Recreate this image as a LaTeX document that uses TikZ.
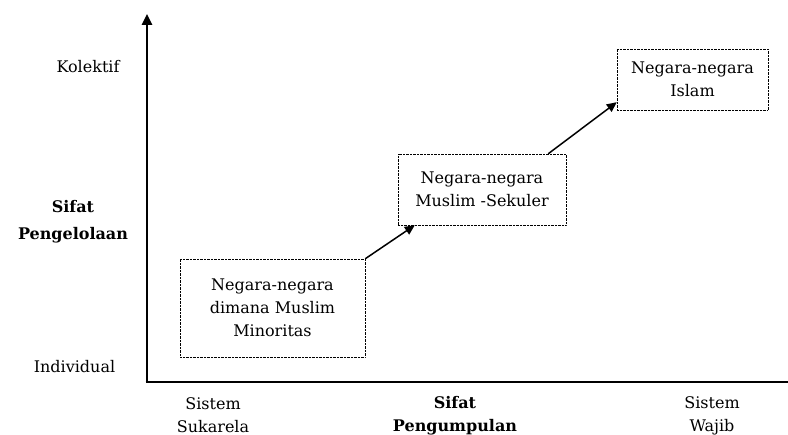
\documentclass[tikz,border=0pt]{standalone}
\usepackage{fontspec}
\setmainfont{DejaVu Serif}
\usetikzlibrary{arrows.meta}
\tikzset{
    negara/.style = {draw, densely dotted, thin, align=center, inner sep=0pt},
    panah/.style = {line width=1.5pt, -{Triangle[length=10pt,width=9pt]}},
    sumbu/.style = {line width=2.6pt},
    teks/.style = {align=center, font=\fontsize{16}{23}\selectfont}
}
\begin{document}
\begin{tikzpicture}[x=1pt,y=1pt]
        \useasboundingbox (0,0) rectangle (788,435);
        % sumbu
        \coordinate (o) at (147,53);
        \coordinate (atas) at (147,421);
        \coordinate (kanan) at (790,53);
        \draw[style = sumbu, -{Triangle[length=11pt,width=10pt]}] (o) -- (atas);
        \draw[style = sumbu] ([xshift=-1.3pt]o) -- (kanan);
        % kotak
        \node[negara, minimum width=185, minimum height=98, teks] (minoritas) at (272.5,127) {Negara-negara\\dimana Muslim\\Minoritas};
        \node[negara, minimum width=168, minimum height=71, teks] (sekuler) at (482,245.5) {Negara-negara\\Muslim -Sekuler};
        \node[negara, minimum width=151, minimum height=61, teks] (islam) at (692.5,355.5) {Negara-negara\\Islam};
        \draw[style = panah] (minoritas.north east) -- ([xshift=17pt]sekuler.south west);
        \draw[style = panah] ([xshift=-18pt]sekuler.north east) -- ([yshift=8pt]islam.south west);
        % label
        \node[teks] (kolektif) at (88,368) {Kolektif};
        \node[teks] (individual) at (74.5,68) {Individual};
        \node[teks, font=\fontsize{16}{27}\selectfont\bfseries] (pengelolaan) at (73,213) {Sifat\\Pengelolaan};
        \node[teks] (sukarela) at (213,19.5) {Sistem\\Sukarela};
        \node[teks, font=\fontsize{16}{23}\selectfont\bfseries] (pengumpulan) at (455,19.5) {Sifat\\Pengumpulan};
        \node[teks] (wajib) at (712,19.5) {Sistem\\Wajib};
    \end{tikzpicture}
\end{document}
